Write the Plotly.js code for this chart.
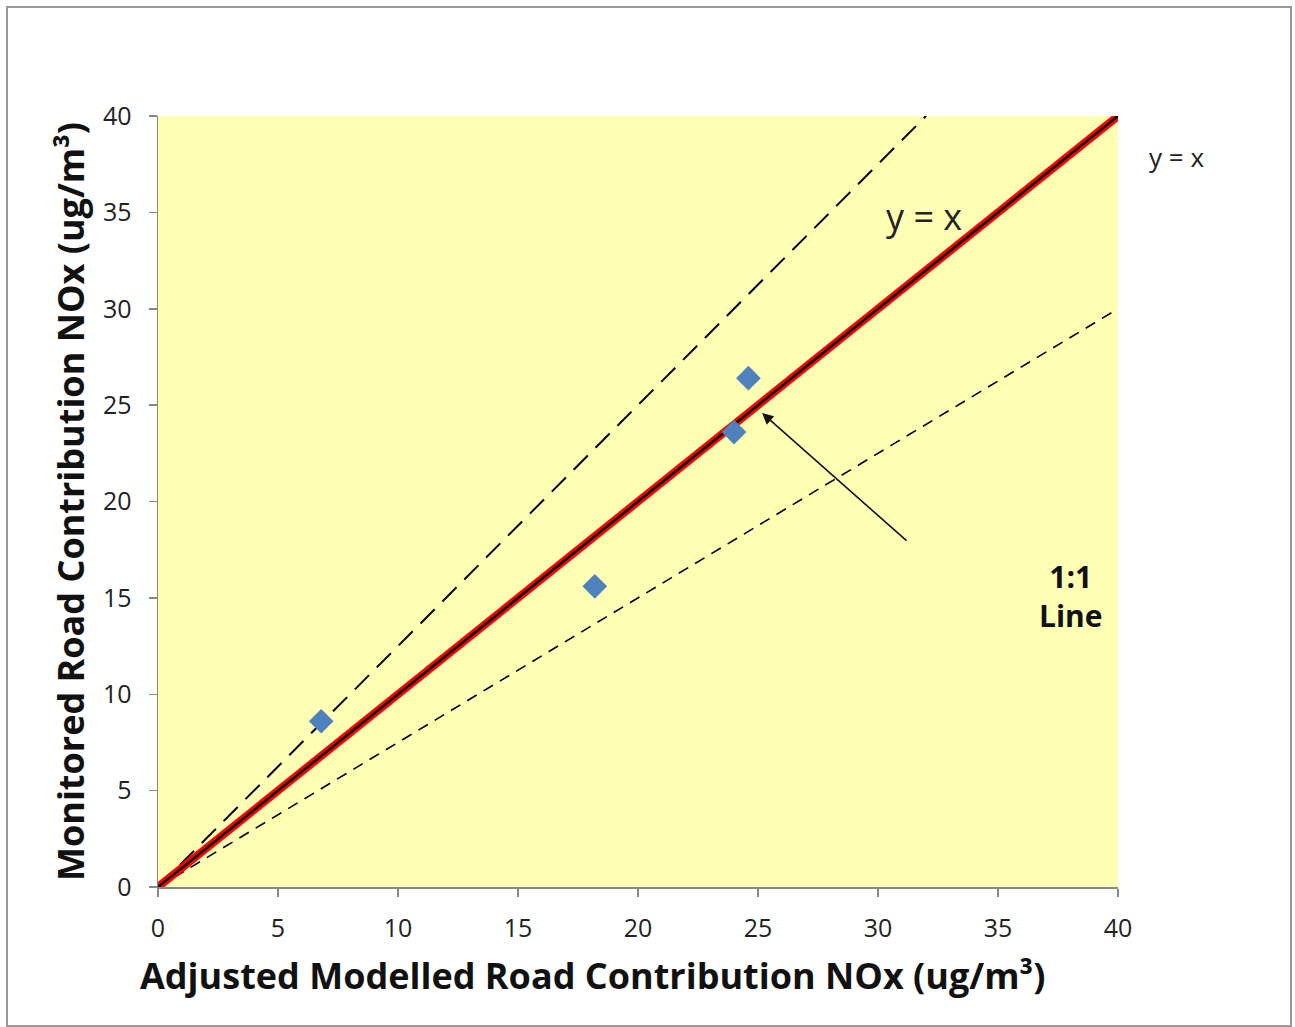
<!DOCTYPE html>
<html>
<head>
<meta charset="utf-8">
<script src="https://cdn.plot.ly/plotly-3.0.1.min.js"></script>
<style>html,body{margin:0;padding:0;background:#fff;}#chart{width:1295px;height:1027px;}</style>
</head>
<body>
<div id="chart"></div>
<script>
// Data
const modelled = [6.8, 18.2, 24.0, 24.6];
const monitored = [8.6, 15.6, 23.6, 26.4];
const lineX = [0, 40];
const oneToOneY = [0, 40];
const upperX = [0, 32];
const upperY = [0, 40];
const lowerX = [0, 40];
const lowerY = [0, 30];
const tickVals = [0, 5, 10, 15, 20, 25, 30, 35, 40];
const xTitle = 'Adjusted Modelled Road Contribution NOx (ug/m³)';
const yTitle = 'Monitored Road Contribution NOx (ug/m³)';

const font = "Open Sans, Noto Sans, DejaVu Sans, sans-serif";

const traces = [
  {x: upperX, y: upperY, mode: 'lines', line: {color: '#000', width: 2, dash: '20px,11px'}, hoverinfo: 'skip'},
  {x: lowerX, y: lowerY, mode: 'lines', line: {color: '#000', width: 1.6, dash: '11px,8px'}, hoverinfo: 'skip'},
  {x: lineX, y: oneToOneY, mode: 'lines', line: {color: '#FF0000', width: 8}, hoverinfo: 'skip'},
  {x: lineX, y: oneToOneY, mode: 'lines', line: {color: '#000', width: 2.5}, hoverinfo: 'skip'},
  {x: modelled, y: monitored, mode: 'markers', marker: {symbol: 'diamond', size: 19, color: '#4F81BD', line: {width: 0}}}
];

const L = 158, R = 1118, T = 116, B = 887, W = 1295, H = 1027;
const px = p => (p - L) / (R - L);
const py = p => (B - p) / (B - T);

const layout = {
  width: W, height: H,
  margin: {l: L, r: W - R, t: T, b: H - B, pad: 0},
  paper_bgcolor: '#fff',
  plot_bgcolor: '#FFFFB3',
  showlegend: false,
  font: {family: font, color: '#222'},
  xaxis: {
    range: [0, 40], tickvals: tickVals, ticks: 'outside', ticklen: 8, tickcolor: '#888', tickwidth: 1.5,
    showline: true, linecolor: '#888', linewidth: 1.5, showgrid: false, zeroline: false,
    ticklabelstandoff: 10,
    tickfont: {size: 25, color: '#222', family: font}
  },
  yaxis: {
    range: [0, 40], tickvals: tickVals, ticks: 'outside', ticklen: 8, tickcolor: '#888', tickwidth: 1.5,
    showline: true, linecolor: '#888', linewidth: 1.5, showgrid: false, zeroline: false,
    ticklabelstandoff: 12,
    tickfont: {size: 25, color: '#222', family: font},
    title: {text: '<b>' + yTitle + '</b>', font: {size: 36, color: '#111', family: font}, standoff: 7}
  },
  shapes: [
    {type: 'rect', xref: 'paper', yref: 'paper', x0: px(7), x1: px(1291), y0: py(1026), y1: py(7), line: {color: '#999', width: 2}, fillcolor: 'rgba(0,0,0,0)', layer: 'below'}
  ],
  annotations: [
    {x: px(592), y: py(975), xref: 'paper', yref: 'paper', xanchor: 'center', yanchor: 'middle', text: '<b>' + xTitle + '</b>', showarrow: false, font: {size: 36, color: '#111', family: font}},
    {x: 31.9, y: 34.8, xref: 'x', yref: 'y', text: 'y = x', showarrow: false, font: {size: 36, color: '#222', family: font}},
    {x: 38.05, y: 15.1, xref: 'x', yref: 'y', text: '<b>1:1<br>Line</b>', showarrow: false, font: {size: 30, color: '#111', family: font}},
    {x: px(1176), y: py(157), xref: 'paper', yref: 'paper', xanchor: 'center', yanchor: 'middle', text: 'y = x', showarrow: false, font: {size: 26, color: '#222', family: font}},
    {x: 25.17, y: 24.59, xref: 'x', yref: 'y', ax: 31.25, ay: 17.9, axref: 'x', ayref: 'y', text: '', showarrow: true, arrowhead: 2, arrowsize: 1.4, arrowwidth: 1.6, arrowcolor: '#111'}
  ]
};

Plotly.newPlot('chart', traces, layout, {displayModeBar: false, staticPlot: true});
</script>
</body>
</html>
